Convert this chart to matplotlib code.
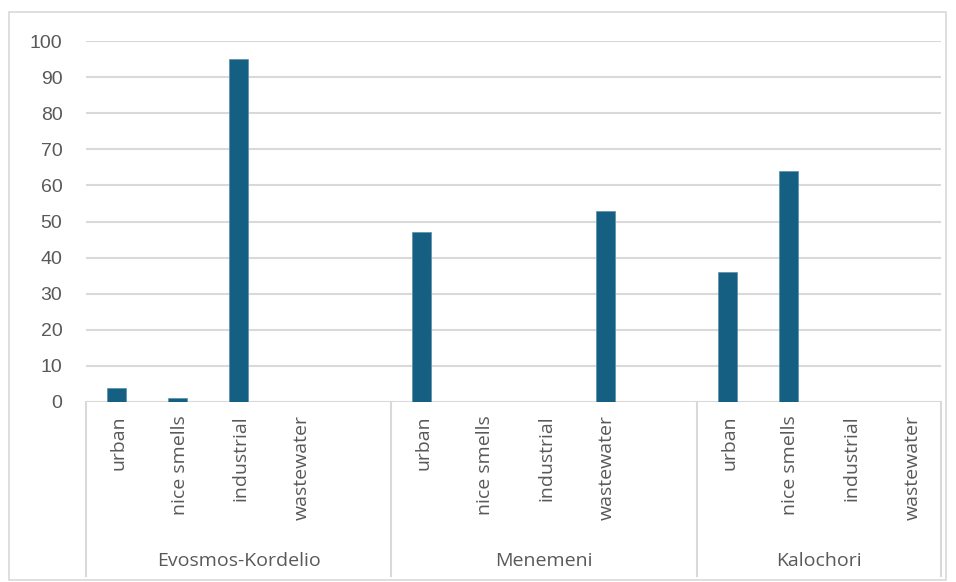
import matplotlib.pyplot as plt
from matplotlib.patches import Rectangle
from matplotlib.lines import Line2D

# data
locations = ["Evosmos-Kordelio", "Menemeni", "Kalochori"]
categories = ["urban", "nice smells", "industrial", "wastewater"]
evosmos = [4, 1, 95, 0]
menemeni = [47, 0, 0, 53]
kalochori = [36, 64, 0, 0]
yticks = [0, 10, 20, 30, 40, 50, 60, 70, 80, 90, 100]

values = [evosmos, menemeni, kalochori]
# each group in the sheet is followed by one empty row, except the last
group_slots = [5, 5, 4]

bar_color = "#156082"
text_color = "#595959"
grid_color = "#d9d9d9"

W, H = 956, 582
fig = plt.figure(figsize=(W / 100, H / 100), dpi=100)

# outer chart frame
fig.patches.append(Rectangle((9 / W, 1 - 580 / H), 937 / W, 568 / H,
                             transform=fig.transFigure, fill=False,
                             edgecolor=grid_color, linewidth=1.2))

left, right, top, bottom = 86, 941, 41, 402
ax = fig.add_axes([left / W, 1 - bottom / H, (right - left) / W, (bottom - top) / H])

total = sum(group_slots)
ax.set_xlim(-0.5, total - 0.5)
ax.set_ylim(0, 100)

# bars
start = 0
group_bounds = []
for vals, n in zip(values, group_slots):
    xs = [start + i for i in range(len(vals))]
    ax.bar(xs, vals, width=0.31, color=bar_color, edgecolor="#5b8fab",
           linewidth=0.5, zorder=3)
    group_bounds.append((start - 0.5, start + n - 0.5))
    start += n

# axes styling
for s in ax.spines.values():
    s.set_visible(False)
ax.set_yticks(yticks)
ax.yaxis.grid(True, color=grid_color, linewidth=1.5, zorder=0)
ax.tick_params(axis="y", length=0, pad=17, labelsize=14, labelcolor=text_color)
for lab in ax.get_yticklabels():
    lab.set_fontfamily("Liberation Sans")
ax.set_xticks([])

# multi-level category axis drawn below the plot
to_fig = lambda px, py: (px / W, 1 - py / H)
slot_w = (right - left) / total
cat_font = ["Open Sans", "DejaVu Sans"]

for (x0, x1), loc in zip(group_bounds, locations):
    gs = int(x0 + 0.5)
    for i, cat in enumerate(categories):
        cx = left + (gs + i + 0.5) * slot_w
        fig.text(*to_fig(cx + 2, 415), cat, rotation=90, ha="center", va="top",
                 fontsize=14, color=text_color, family=cat_font)
    gx = left + ((x0 + x1) / 2 + 0.5) * slot_w
    fig.text(*to_fig(gx, 561), loc, ha="center", va="center",
             fontsize=14, color=text_color, family=cat_font)

# separators between groups
sep_px = [left] + [left + (b[1] + 0.5) * slot_w for b in group_bounds]
for sx in sep_px:
    fig.lines.append(Line2D([sx / W, sx / W], [1 - 402 / H, 1 - 576 / H],
                            transform=fig.transFigure, color=grid_color, linewidth=1.5))

fig.savefig("out.png", dpi=100)
